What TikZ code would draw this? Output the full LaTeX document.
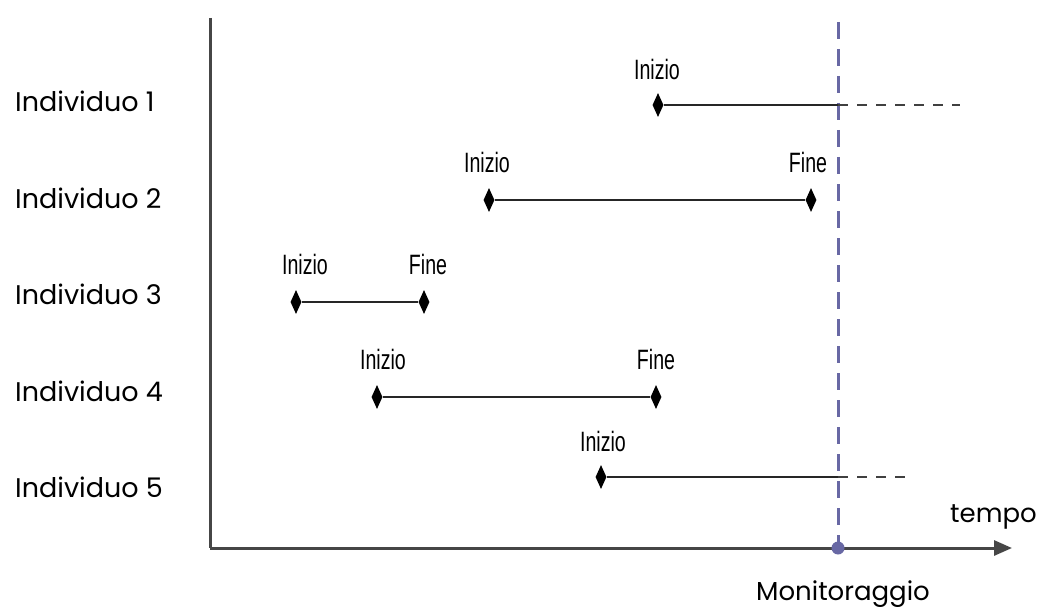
\documentclass[tikz,border=0pt]{standalone}
\usepackage{fontspec}
\setmainfont{Poppins}
\newfontfamily\condfont[FakeStretch=0.7]{Liberation Sans}
\usetikzlibrary{shapes.geometric,arrows.meta}
\definecolor{monitor}{RGB}{104,104,164}
\definecolor{axisgray}{RGB}{70,70,70}
\tikzset{
  evt/.style={diamond,fill=black,draw=none,inner sep=0pt,minimum width=11pt,minimum height=24pt},
  seg/.style={line width=2.2pt,draw=black!85},
  cont/.style={line width=2.2pt,draw=black!75,dash pattern=on 10pt off 9pt},
  lab/.style={font=\condfont\fontsize{28}{30}\selectfont,anchor=base,inner sep=0pt},
  rowlab/.style={font=\fontsize{27}{29}\selectfont,anchor=base west,inner sep=0pt},
  axis/.style={line width=3pt,draw=axisgray},
}
\begin{document}
\begin{tikzpicture}[x=1pt,y=-1pt]
\useasboundingbox (0,0) rectangle (1039,607);
% axes
\coordinate (O) at (210,548);
\coordinate (Ytop) at (210,18);
\coordinate (Xend) at (1012,548);
\draw[axis] (Ytop) -- (O);
\draw[axis,-{Triangle[length=18pt,width=15pt]}] (O) -- (Xend);
\node[font=\fontsize{26}{28}\selectfont,anchor=base west,inner sep=0pt] (tempo) at (950,522) {tempo};
% monitoring line
\coordinate (Mtop) at (838,22);
\coordinate (Mbot) at (838,548);
\draw[monitor,line width=3pt,dash pattern=on 17pt off 10pt] (Mtop) -- (Mbot);
\node[circle,fill=monitor,inner sep=0pt,minimum size=13pt] (mdot) at (Mbot) {};
\node[font=\fontsize{26}{28}\selectfont,anchor=base,inner sep=0pt] (mon) at (843,600) {Monitoraggio};
% row labels
\node[rowlab] (r1) at (15,112) {Individuo 1};
\node[rowlab] (r2) at (15,208) {Individuo 2};
\node[rowlab] (r3) at (15,304) {Individuo 3};
\node[rowlab] (r4) at (15,401) {Individuo 4};
\node[rowlab] (r5) at (15,497) {Individuo 5};
% individual 1
\node[evt] (s1) at (658,105) {};
\coordinate (m1) at (838,105);
\coordinate (c1) at (960,105);
\draw[seg] (s1) -- (m1);
\draw[cont] (m1) -- (c1);
\node[lab] (l1s) at (657,80) {Inizio};
% individual 2
\node[evt] (s2) at (489,200) {};
\node[evt] (e2) at (811,200) {};
\draw[seg] (s2) -- (e2);
\node[lab] (l2s) at (487,172) {Inizio};
\node[lab] (l2e) at (808,172) {Fine};
% individual 3
\node[evt] (s3) at (296,302) {};
\node[evt] (e3) at (424,302) {};
\draw[seg] (s3) -- (e3);
\node[lab] (l3s) at (305,274) {Inizio};
\node[lab] (l3e) at (428,274) {Fine};
% individual 4
\node[evt] (s4) at (377,397) {};
\node[evt] (e4) at (656,397) {};
\draw[seg] (s4) -- (e4);
\node[lab] (l4s) at (383,369) {Inizio};
\node[lab] (l4e) at (656,369) {Fine};
% individual 5
\node[evt] (s5) at (601,477) {};
\coordinate (m5) at (838,477);
\coordinate (c5) at (912,477);
\draw[seg] (s5) -- (m5);
\draw[cont] (m5) -- (c5);
\node[lab] (l5s) at (603,451) {Inizio};
\end{tikzpicture}
\end{document}
